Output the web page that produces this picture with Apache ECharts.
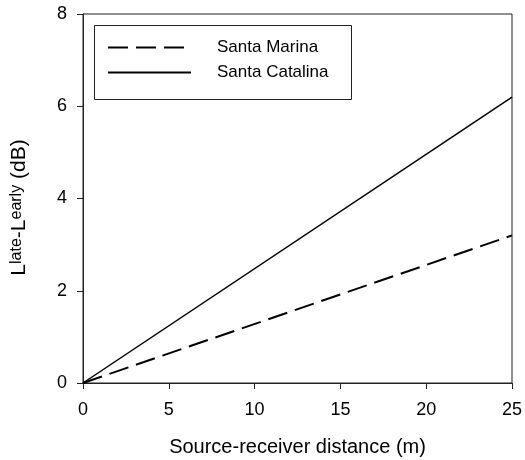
<!DOCTYPE html>
<html><head><meta charset="utf-8">
<script src="https://cdn.jsdelivr.net/npm/echarts@6/dist/echarts.min.js"></script>
<style>html,body{margin:0;padding:0;background:#fff}#c{width:525px;height:460px}</style>
</head><body><div id="c"></div>
<script>
const distance = [0, 25];
const santaMarina = [0, 3.2];
const santaCatalina = [0, 6.2];
const seriesNames = ['Santa Marina', 'Santa Catalina'];
const xTicks = [0, 5, 10, 15, 20, 25];
const yTicks = [0, 2, 4, 6, 8];

const font = 'Liberation Sans, Arial, sans-serif';
const chart = echarts.init(document.getElementById('c'));
chart.setOption({
  animation: false,
  backgroundColor: '#fff',
  grid: {left: 83, right: 13, top: 14, bottom: 77, show: true, borderColor: '#222', borderWidth: 1,
         containLabel: false, outerBoundsMode: 'none'},
  legend: {
    orient: 'vertical', left: 102, top: 34, itemWidth: 83, itemHeight: 16, itemGap: 8,
    itemStyle: {opacity: 0},
    textStyle: {fontFamily: font, fontSize: 17, color: '#000', padding: [0, 0, 0, 21]},
    data: seriesNames
  },
  graphic: [{type: 'rect', left: 92, top: 23, shape: {width: 257, height: 74}, style: {fill: 'none', stroke: '#222', lineWidth: 1}}],
  xAxis: {
    type: 'value', min: xTicks[0], max: xTicks[xTicks.length - 1], interval: 5,
    name: 'Source-receiver distance (m)', nameLocation: 'middle', nameGap: 54,
    nameTextStyle: {fontFamily: font, fontSize: 20, color: '#000'},
    axisLine: {show: true, lineStyle: {color: '#222', width: 1}},
    axisTick: {show: true, length: 6, inside: false, lineStyle: {color: '#222'}},
    axisLabel: {fontFamily: font, fontSize: 18, color: '#000', margin: 18},
    splitLine: {show: false}
  },
  yAxis: {
    type: 'value', min: yTicks[0], max: yTicks[yTicks.length - 1], interval: 2,
    name: '{b|L}{s|late}{b|-L}{s|early}{b| (dB)}', nameLocation: 'middle', nameGap: 40, nameRotate: 90,
    nameTextStyle: {fontFamily: font, fontSize: 21, color: '#000', padding: [0, 18, 0, 0],
      rich: {b: {fontFamily: font, fontSize: 21, color: '#000', verticalAlign: 'top', lineHeight: 22},
             s: {fontFamily: font, fontSize: 16, color: '#000', verticalAlign: 'top', lineHeight: 34}}},
    axisLine: {show: true, lineStyle: {color: '#222', width: 1}},
    axisTick: {show: true, length: 6, inside: false, lineStyle: {color: '#222'}},
    axisLabel: {fontFamily: font, fontSize: 18, color: '#000', margin: 16},
    splitLine: {show: false}
  },
  series: [
    {name: seriesNames[0], type: 'line', symbol: 'none', data: distance.map((d, i) => [d, santaMarina[i]]),
     lineStyle: {color: '#000', width: 2, type: [20, 8]}, itemStyle: {color: '#000'}},
    {name: seriesNames[1], type: 'line', symbol: 'none', data: distance.map((d, i) => [d, santaCatalina[i]]),
     lineStyle: {color: '#000', width: 1.5, type: 'solid'}, itemStyle: {color: '#000'}}
  ]
});
</script></body></html>
